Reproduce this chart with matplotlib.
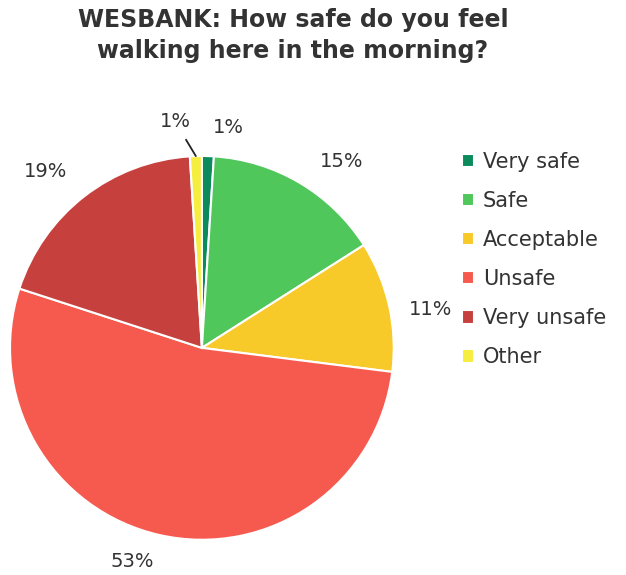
import numpy as np
import matplotlib.pyplot as plt

# Survey answers, in the order they go round the pie (clockwise from the top)
categories = ["Very safe", "Safe", "Acceptable", "Unsafe", "Very unsafe", "Other"]
shares = [1, 15, 11, 53, 19, 1]
colours = ["#0b8a5c", "#4fc75b", "#f7c929", "#f65a4f", "#c6413d", "#f6ee3e"]

title = "WESBANK: How safe do you feel\nwalking here in the morning?"

fig = plt.figure(figsize=(6.26, 5.75), dpi=100)
ax = fig.add_axes([0.016, 0.061, 0.613, 0.668])

wedges, texts = ax.pie(shares, colors=colours, startangle=90, counterclock=False,
                       wedgeprops=dict(edgecolor="white", linewidth=1.5),
                       labels=[str(s) + "%" for s in shares],
                       labeldistance=1.2,
                       textprops=dict(fontsize=14, color="#333333"))
ax.set_aspect("equal")
ax.set_xlim(-1, 1)
ax.set_ylim(-1, 1)

# Nudge the labels a little to where they sit best
offsets = {1: (0.12, -0.06), 2: (0.02, -0.06), 3: (-0.1, 0.06), 4: (-0.08, -0.03)}
for i, t in enumerate(texts):
    t.set_ha("center")
    t.set_va("center")
    if i in offsets:
        x, y = t.get_position()
        t.set_position((x + offsets[i][0], y + offsets[i][1]))

# The two 1% slices are too thin for the default spot
texts[0].set_position((0.14, 1.15))
texts[5].set_visible(False)
w = wedges[5]
mid = np.radians((w.theta1 + w.theta2) / 2)
ax.annotate(texts[5].get_text(), xy=(np.cos(mid), np.sin(mid)), xytext=(-0.14, 1.18),
            ha="center", va="center", fontsize=14, color="#333333",
            arrowprops=dict(arrowstyle="-", color="#222222", lw=1.3, shrinkA=5, shrinkB=0))

for t in ax.texts:
    t.set_clip_on(False)

fig.text(0.468, 0.938, title, ha="center", va="center", fontsize=17,
         fontweight="bold", color="#333333", linespacing=1.4)

fig.legend(wedges, categories, loc="upper left", bbox_to_anchor=(0.708, 0.769),
           frameon=False, fontsize=15, handlelength=0.6, handleheight=0.6,
           handletextpad=0.4, labelspacing=0.92, labelcolor="#333333")

fig.savefig("out.png", dpi=100)
